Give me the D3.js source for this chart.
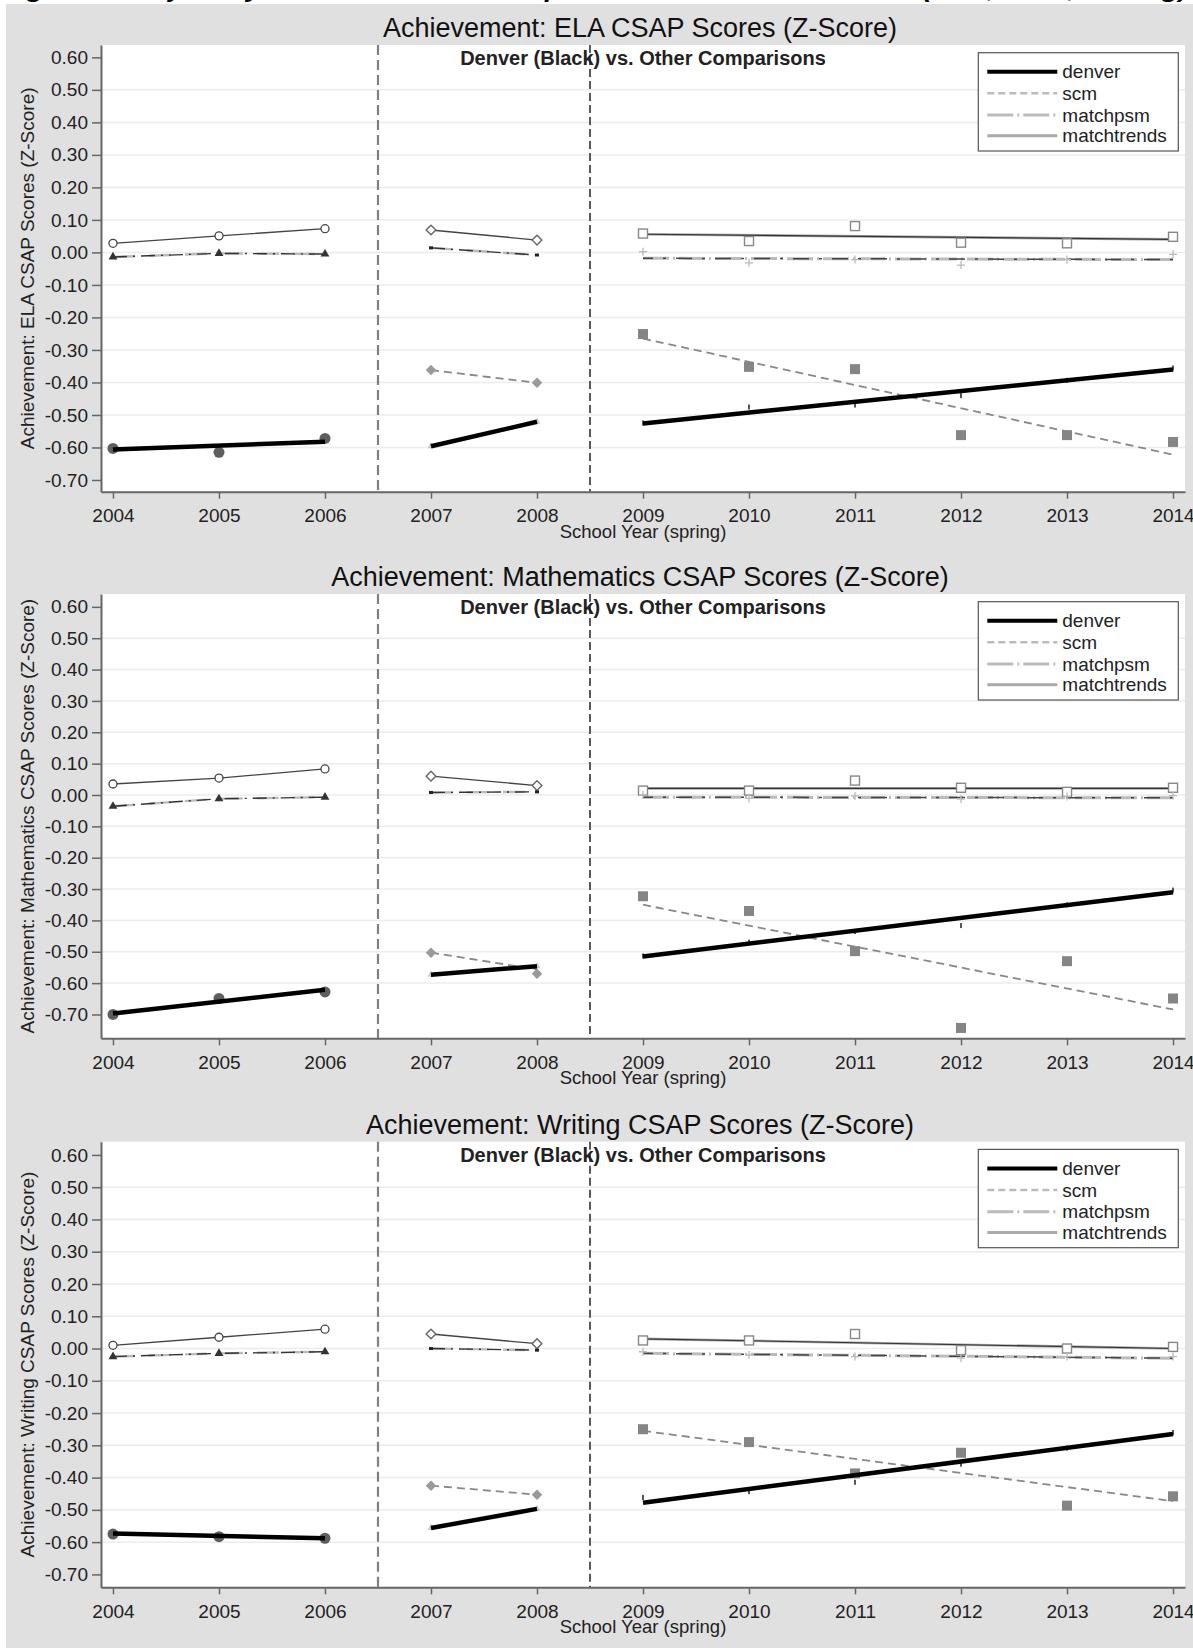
<!DOCTYPE html>
<html>
<head>
<meta charset="utf-8">
<script src="https://cdn.jsdelivr.net/npm/d3@7"></script>
<style>
  body { margin: 0; background: #fff; }
  svg { display: block; }
  text { font-family: "Liberation Sans", Arial, sans-serif; }
</style>
</head>
<body>
<svg id="chart" width="1193" height="1648"></svg>
<script>
// ---- data ----
const years = [2004, 2005, 2006, 2007, 2008, 2009, 2010, 2011, 2012, 2013, 2014];
const cutYears = [2006.5, 2008.5];
const fitYears = [2004, 2006, 2007, 2008, 2009, 2014];
const yTicks = [0.6, 0.5, 0.4, 0.3, 0.2, 0.1, 0, -0.1, -0.2, -0.3, -0.4, -0.5, -0.6, -0.7];
const yTickLabels = ['0.60', '0.50', '0.40', '0.30', '0.20', '0.10', '0.00', '-0.10', '-0.20', '-0.30', '-0.40', '-0.50', '-0.60', '-0.70'];
const legendLabels = ['denver', 'scm', 'matchpsm', 'matchtrends'];

// ELA
const elaDenver = [-0.603, -0.615, -0.572, -0.596, -0.521, -0.526, -0.477, -0.471, -0.442, -0.395, -0.357];
const elaDenverFit = [-0.606, -0.582, -0.596, -0.521, -0.526, -0.360];
const elaScm = [null, null, null, -0.362, -0.401, -0.251, -0.352, -0.359, -0.562, -0.562, -0.583];
const elaScmFit = [null, null, -0.362, -0.401, -0.265, -0.622];
const elaPsm = [-0.014, -0.003, -0.005, 0.014, -0.008, 0.002, -0.032, -0.022, -0.039, -0.022, -0.006];
const elaPsmPostFit = [-0.018, -0.022];
const elaTrends = [0.028, 0.051, 0.073, 0.069, 0.038, 0.058, 0.035, 0.081, 0.030, 0.028, 0.048];
const elaTrendsPostFit = [0.056, 0.040];

// Mathematics
const mathDenver = [-0.700, -0.649, -0.628, -0.573, -0.546, -0.515, -0.471, -0.437, -0.418, -0.352, -0.305];
const mathDenverFit = [-0.697, -0.621, -0.573, -0.546, -0.515, -0.310];
const mathScm = [null, null, null, -0.503, -0.570, -0.323, -0.370, -0.498, -0.743, -0.530, -0.649];
const mathScmFit = [null, null, -0.503, -0.556, -0.350, -0.684];
const mathPsm = [-0.036, -0.012, -0.007, 0.008, 0.010, 0.000, -0.011, -0.003, -0.013, -0.005, -0.002];
const mathPsmPostFit = [-0.007, -0.009];
const mathTrends = [0.035, 0.054, 0.083, 0.060, 0.030, 0.014, 0.014, 0.046, 0.023, 0.010, 0.023];
const mathTrendsPostFit = [0.021, 0.021];

// Writing
const wriDenver = [-0.575, -0.583, -0.588, -0.556, -0.497, -0.463, -0.445, -0.416, -0.360, -0.310, -0.262];
const wriDenverFit = [-0.573, -0.588, -0.556, -0.497, -0.478, -0.265];
const wriScm = [null, null, null, -0.425, -0.453, -0.250, -0.290, -0.387, -0.323, -0.487, -0.458];
const wriScmFit = [null, null, -0.425, -0.453, -0.255, -0.473];
const wriPsm = [-0.025, -0.015, -0.010, 0.000, -0.005, -0.010, -0.020, -0.025, -0.030, -0.025, -0.025];
const wriPsmPostFit = [-0.015, -0.030];
const wriTrends = [0.010, 0.035, 0.060, 0.045, 0.015, 0.025, 0.025, 0.045, -0.005, 0.000, 0.005];
const wriTrendsPostFit = [0.030, 0.000];

const panels = [
  { title: 'Achievement: ELA CSAP Scores (Z-Score)', top: 45, bottom: 491.7, domain: [-0.736, 0.638],
    denver: elaDenver, denverFit: elaDenverFit, scm: elaScm, scmFit: elaScmFit,
    psm: elaPsm, psmFit: elaPsmPostFit, trends: elaTrends, trendsFit: elaTrendsPostFit },
  { title: 'Achievement: Mathematics CSAP Scores (Z-Score)', top: 594, bottom: 1038.3, domain: [-0.776, 0.641],
    denver: mathDenver, denverFit: mathDenverFit, scm: mathScm, scmFit: mathScmFit,
    psm: mathPsm, psmFit: mathPsmPostFit, trends: mathTrends, trendsFit: mathTrendsPostFit },
  { title: 'Achievement: Writing CSAP Scores (Z-Score)', top: 1141.7, bottom: 1587.3, domain: [-0.740, 0.641],
    denver: wriDenver, denverFit: wriDenverFit, scm: wriScm, scmFit: wriScmFit,
    psm: wriPsm, psmFit: wriPsmPostFit, trends: wriTrends, trendsFit: wriTrendsPostFit }
];

// ---- drawing ----
const svg = d3.select('#chart');
const plotL = 101, plotR = 1185;
const x = d3.scaleLinear().domain([2003.887, 2014.113]).range([plotL, plotR]);

// page caption, only its descenders show above the grey frame
svg.append('text')
  .attr('x', 2).attr('y', -3)
  .attr('font-family', '"Liberation Serif", serif')
  .attr('font-weight', 'bold').attr('font-style', 'italic')
  .attr('font-size', 24)
  .attr('textLength', 1186).attr('lengthAdjust', 'spacingAndGlyphs')
  .text('Figure 8: Trajectory of Achievement Comparisons for Black Students (ELA, Math, Writing)');

svg.append('rect')
  .attr('x', 6).attr('y', 4).attr('width', 1187).attr('height', 1644)
  .attr('fill', '#e0e0e0');

const pts = (vals, idx) => idx.map(i => [years[i], vals[i]]);
const pre = [0, 1, 2], mid = [3, 4], post = [5, 6, 7, 8, 9, 10];

panels.forEach(drawPanel);

function drawPanel(p) {
  const y = d3.scaleLinear().domain(p.domain).range([p.bottom, p.top]);
  const line = d3.line().x(d => x(d[0])).y(d => y(d[1]));
  const g = svg.append('g');

  g.append('rect')
    .attr('x', plotL).attr('y', p.top)
    .attr('width', plotR - plotL).attr('height', p.bottom - p.top)
    .attr('fill', '#fff');

  // grid lines (not at the extremes)
  g.append('g').selectAll('line')
    .data(yTicks.slice(1, -1))
    .join('line')
    .attr('x1', plotL).attr('x2', plotR)
    .attr('y1', d => y(d)).attr('y2', d => y(d))
    .attr('stroke', '#ececec').attr('stroke-width', 1.5);

  // period separators
  g.append('line')
    .attr('x1', x(cutYears[0])).attr('x2', x(cutYears[0]))
    .attr('y1', p.top).attr('y2', p.bottom)
    .attr('stroke', '#808080').attr('stroke-width', 2.2).attr('stroke-dasharray', '10,5');
  g.append('line')
    .attr('x1', x(cutYears[1])).attr('x2', x(cutYears[1]))
    .attr('y1', p.top).attr('y2', p.bottom)
    .attr('stroke', '#333').attr('stroke-width', 1.6).attr('stroke-dasharray', '8,4');

  // axes
  const ya = g.append('g')
    .attr('transform', `translate(${plotL},0)`)
    .call(d3.axisLeft(y).tickValues(yTicks).tickFormat((d, i) => yTickLabels[i])
      .tickSize(9).tickPadding(4).tickSizeOuter(0));
  const xa = g.append('g')
    .attr('transform', `translate(0,${p.bottom})`)
    .call(d3.axisBottom(x).tickValues(years).tickFormat(d3.format('d'))
      .tickSize(7).tickPadding(10).tickSizeOuter(0));
  [ya, xa].forEach(a => {
    a.attr('font-size', 19).attr('font-family', '"Liberation Sans", Arial, sans-serif');
    a.select('.domain').attr('stroke', '#666').attr('stroke-width', 2);
    a.selectAll('.tick line').attr('stroke', '#666').attr('stroke-width', 1.5);
    a.selectAll('.tick text').attr('fill', '#222');
  });

  // ---- lines ----
  const lines = g.append('g').attr('fill', 'none');
  // matchtrends: pre and mid connect the markers, post fitted
  lines.append('path').attr('d', line(pts(p.trends, pre))).attr('stroke', '#444').attr('stroke-width', 1.3);
  lines.append('path').attr('d', line(pts(p.trends, mid))).attr('stroke', '#444').attr('stroke-width', 1.3);
  const trendPost = [[years[5], p.trendsFit[0]], [years[10], p.trendsFit[1]]];
  lines.append('path').attr('d', line(trendPost)).attr('stroke', '#aaa').attr('stroke-width', 2.6);
  lines.append('path').attr('d', line(trendPost)).attr('stroke', '#333').attr('stroke-width', 1.1);

  // matchpsm
  [pre, mid].forEach(idx => {
    lines.append('path').attr('d', line(pts(p.psm, idx)))
      .attr('stroke', '#bbb').attr('stroke-width', 2.4).attr('stroke-dasharray', '22,14');
    lines.append('path').attr('d', line(pts(p.psm, idx)))
      .attr('stroke', '#333').attr('stroke-width', 1.4).attr('stroke-dasharray', '14,6,2,6');
  });
  const psmPost = [[years[5], p.psmFit[0]], [years[10], p.psmFit[1]]];
  lines.append('path').attr('d', line(psmPost))
    .attr('stroke', '#bbb').attr('stroke-width', 3).attr('stroke-dasharray', '26,4,2,4');
  lines.append('path').attr('d', line(psmPost))
    .attr('stroke', '#444').attr('stroke-width', 1.5).attr('stroke-dasharray', '16,10,3,10').attr('stroke-dashoffset', 6);

  // scm
  const scmFitPairs = [[2, 3], [4, 5]].map(([a, b]) => [[fitYears[a], p.scmFit[a]], [fitYears[b], p.scmFit[b]]]);
  scmFitPairs.forEach(seg => {
    lines.append('path').attr('d', line(seg))
      .attr('stroke', '#888').attr('stroke-width', 1.8).attr('stroke-dasharray', '8,5');
  });

  // ---- markers ----
  const m = g.append('g');
  // pre period
  m.selectAll(null).data(pts(p.trends, pre)).join('circle')
    .attr('cx', d => x(d[0])).attr('cy', d => y(d[1])).attr('r', 4)
    .attr('fill', '#fff').attr('stroke', '#444').attr('stroke-width', 1.3);
  m.selectAll(null).data(pts(p.psm, pre)).join('path')
    .attr('transform', d => `translate(${x(d[0])},${y(d[1])})`)
    .attr('d', d3.symbol(d3.symbolTriangle, 34)()).attr('fill', '#333');
  m.selectAll(null).data(pts(p.denver, pre)).join('circle')
    .attr('cx', d => x(d[0])).attr('cy', d => y(d[1])).attr('r', 5.5)
    .attr('fill', '#5e5e5e');
  // middle period
  m.selectAll(null).data(pts(p.trends, mid)).join('path')
    .attr('transform', d => `translate(${x(d[0])},${y(d[1])})`)
    .attr('d', d3.symbol(d3.symbolDiamond2, 60)())
    .attr('fill', '#fff').attr('stroke', '#666').attr('stroke-width', 1.4);
  m.selectAll(null).data(pts(p.psm, mid)).join('rect')
    .attr('x', d => x(d[0]) - 2).attr('y', d => y(d[1]) - 1.5)
    .attr('width', 4).attr('height', 3).attr('fill', '#222');
  m.selectAll(null).data(pts(p.scm, mid)).join('path')
    .attr('transform', d => `translate(${x(d[0])},${y(d[1])})`)
    .attr('d', d3.symbol(d3.symbolDiamond2, 70)()).attr('fill', '#999');
  m.selectAll(null).data(pts(p.denver, mid)).join('path')
    .attr('transform', d => `translate(${x(d[0])},${y(d[1])})`)
    .attr('d', d3.symbol(d3.symbolTriangle, 22)()).attr('fill', '#ccc');
  // post period
  m.selectAll(null).data(pts(p.trends, post)).join('rect')
    .attr('x', d => x(d[0]) - 4.5).attr('y', d => y(d[1]) - 4.5)
    .attr('width', 9).attr('height', 9)
    .attr('fill', '#fff').attr('stroke', '#888').attr('stroke-width', 1.4);
  m.selectAll(null).data(pts(p.psm, post)).join('path')
    .attr('transform', d => `translate(${x(d[0])},${y(d[1])})`)
    .attr('d', 'M-4,0H4M0,-4V4').attr('stroke', '#bbb').attr('stroke-width', 1.3);
  m.selectAll(null).data(pts(p.scm, post)).join('rect')
    .attr('x', d => x(d[0]) - 5).attr('y', d => y(d[1]) - 5)
    .attr('width', 10).attr('height', 10).attr('fill', '#858585');
  m.selectAll(null).data(pts(p.denver, post)).join('rect')
    .attr('x', d => x(d[0]) - 1).attr('y', d => y(d[1]) - 3)
    .attr('width', 2).attr('height', 5).attr('fill', '#555');

  // denver fitted lines on top
  [[0, 1], [2, 3], [4, 5]].forEach(([a, b]) => {
    g.append('path')
      .attr('d', line([[fitYears[a], p.denverFit[a]], [fitYears[b], p.denverFit[b]]]))
      .attr('fill', 'none').attr('stroke', '#000').attr('stroke-width', 4.5);
  });

  // ---- texts ----
  g.append('text')
    .attr('x', 640).attr('y', p.top - 8)
    .attr('text-anchor', 'middle').attr('font-size', 27).attr('fill', '#111')
    .text(p.title);
  g.append('text')
    .attr('x', 643).attr('y', p.top + 20)
    .attr('text-anchor', 'middle').attr('font-size', 20).attr('font-weight', 'bold').attr('fill', '#222')
    .text('Denver (Black) vs. Other Comparisons');
  g.append('text')
    .attr('x', 643).attr('y', p.bottom + 46)
    .attr('text-anchor', 'middle').attr('font-size', 18.5).attr('fill', '#222')
    .text('School Year (spring)');
  g.append('text')
    .attr('transform', `translate(27,${(p.top + p.bottom) / 2}) rotate(-90)`)
    .attr('text-anchor', 'middle').attr('dy', '0.35em')
    .attr('font-size', 19).attr('fill', '#222')
    .text(p.title);

  // legend
  const lg = g.append('g').attr('transform', `translate(978.3,${p.top + 7.7})`);
  lg.append('rect').attr('width', 200).attr('height', 98.3)
    .attr('fill', '#fff').attr('stroke', '#555').attr('stroke-width', 1.2);
  const rowY = [19, 40.6, 62.3, 83];
  const legendStyle = [
    { stroke: '#000', width: 4, dash: null },
    { stroke: '#bbb', width: 2.5, dash: '7,4' },
    { stroke: '#bbb', width: 3, dash: '26,4,2,4' },
    { stroke: '#aaa', width: 3, dash: null }
  ];
  legendLabels.forEach((lab, i) => {
    const s = legendStyle[i];
    lg.append('line')
      .attr('x1', 9).attr('x2', 79).attr('y1', rowY[i]).attr('y2', rowY[i])
      .attr('stroke', s.stroke).attr('stroke-width', s.width)
      .attr('stroke-dasharray', s.dash);
    lg.append('text')
      .attr('x', 84).attr('y', rowY[i]).attr('dy', '0.35em')
      .attr('font-size', 19).attr('fill', '#222')
      .text(lab);
  });
}
</script>
</body>
</html>
